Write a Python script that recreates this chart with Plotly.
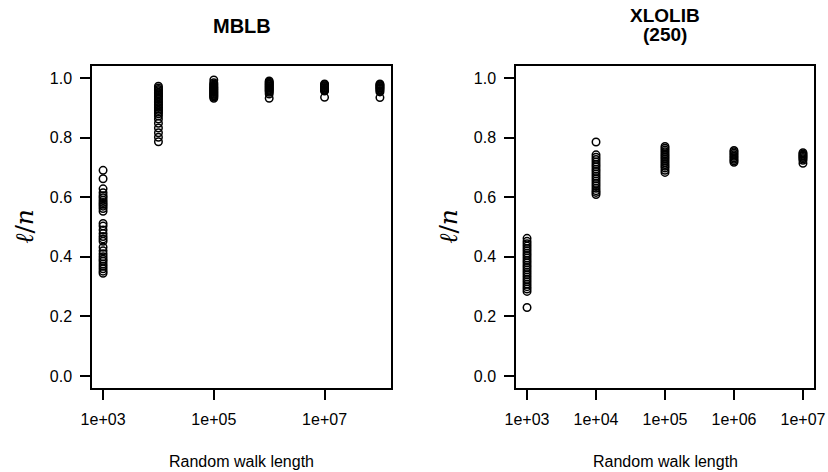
import plotly.graph_objects as go

W, H = 828, 472

# ---- data ----
mblb_lengths = [1e3, 1e4, 1e5, 1e6, 1e7, 1e8]
mblb_values = [
    [0.690, 0.662, 0.628, 0.615, 0.605, 0.598, 0.590, 0.582, 0.576, 0.570, 0.562, 0.553,
     0.512, 0.503, 0.490, 0.478, 0.468, 0.460, 0.452, 0.432, 0.420, 0.410, 0.400, 0.392,
     0.385, 0.376, 0.368, 0.360, 0.352, 0.345],
    [0.972, 0.966, 0.961, 0.957, 0.952, 0.947, 0.943, 0.938, 0.933, 0.928, 0.922, 0.917,
     0.912, 0.906, 0.901, 0.896, 0.891, 0.886, 0.880, 0.872, 0.862, 0.848, 0.832, 0.816,
     0.801, 0.786],
    [0.993, 0.984, 0.980, 0.976, 0.972, 0.969, 0.966, 0.963, 0.960, 0.957, 0.954, 0.951,
     0.948, 0.945, 0.942, 0.939, 0.936, 0.932],
    [0.990, 0.986, 0.983, 0.980, 0.977, 0.974, 0.971, 0.968, 0.965, 0.962, 0.959, 0.956,
     0.952, 0.946, 0.932],
    [0.980, 0.977, 0.974, 0.971, 0.968, 0.965, 0.962, 0.959, 0.956, 0.935],
    [0.980, 0.977, 0.974, 0.971, 0.968, 0.965, 0.962, 0.958, 0.953, 0.934],
]

xlolib_lengths = [1e3, 1e4, 1e5, 1e6, 1e7]
xlolib_values = [
    [0.462, 0.452, 0.444, 0.436, 0.428, 0.420, 0.412, 0.404, 0.396, 0.388, 0.380, 0.372,
     0.364, 0.356, 0.348, 0.340, 0.332, 0.324, 0.316, 0.308, 0.300, 0.292, 0.284, 0.230],
    [0.785, 0.742, 0.734, 0.726, 0.718, 0.710, 0.702, 0.694, 0.686, 0.678, 0.670, 0.662,
     0.654, 0.646, 0.638, 0.630, 0.622, 0.616, 0.609],
    [0.770, 0.764, 0.758, 0.752, 0.746, 0.740, 0.734, 0.728, 0.722, 0.716, 0.710, 0.704,
     0.698, 0.690, 0.683],
    [0.757, 0.752, 0.747, 0.742, 0.737, 0.732, 0.727, 0.722, 0.717],
    [0.749, 0.745, 0.741, 0.737, 0.733, 0.729, 0.724, 0.714],
]

y_ticks = [0.0, 0.2, 0.4, 0.6, 0.8, 1.0]
mblb_xticks = [1e3, 1e5, 1e7]
mblb_xlabels = ["1e+03", "1e+05", "1e+07"]
xlolib_xticks = [1e3, 1e4, 1e5, 1e6, 1e7]
xlolib_xlabels = ["1e+03", "1e+04", "1e+05", "1e+06", "1e+07"]

FONT = "Liberation Sans, Arial, Helvetica, sans-serif"

fig = go.Figure()

def add_points(lengths, values, xa, ya):
    xs, ys = [], []
    for L, vals in zip(lengths, values):
        for v in vals:
            xs.append(L)
            ys.append(v)
    fig.add_trace(go.Scatter(
        x=xs, y=ys, mode="markers", xaxis=xa, yaxis=ya, showlegend=False,
        marker=dict(symbol="circle-open", size=7.5, color="black",
                    line=dict(color="black", width=1.5)),
        hoverinfo="x+y"))

add_points(mblb_lengths, mblb_values, "x", "y")
add_points(xlolib_lengths, xlolib_values, "x2", "y2")

top, bot = 66, 388
ydom = [1 - bot / H, 1 - top / H]
ax_common = dict(showline=True, mirror=True, linecolor="black", linewidth=1.5,
                 ticks="outside", ticklen=10, tickwidth=1.5, tickcolor="black",
                 showgrid=False, zeroline=False, automargin=False,
                 tickfont=dict(family=FONT, size=16, color="black"))

fig.update_layout(
    template="none",
    width=W, height=H, margin=dict(l=0, r=0, t=0, b=0, autoexpand=False),
    paper_bgcolor="white", plot_bgcolor="white",
    xaxis=dict(domain=[92 / W, 391 / W], type="log", range=[2.8, 8.2],
               tickvals=mblb_xticks, ticktext=mblb_xlabels, anchor="y",
               ticklabelstandoff=6, **ax_common),
    yaxis=dict(domain=ydom, range=[-0.04, 1.04], tickvals=y_ticks,
               tickformat=".1f", anchor="x", ticklabelstandoff=5, **ax_common),
    xaxis2=dict(domain=[516 / W, 814 / W], type="log", range=[2.84, 7.16],
                tickvals=xlolib_xticks, ticktext=xlolib_xlabels, anchor="y2",
                ticklabelstandoff=6, **ax_common),
    yaxis2=dict(domain=ydom, range=[-0.04, 1.04], tickvals=y_ticks,
                tickformat=".1f", anchor="x2", ticklabelstandoff=5, **ax_common),
)

def ann(text, x, y, size=16, bold=False, angle=0):
    fig.add_annotation(text=f"<b>{text}</b>" if bold else text,
                       x=x / W, y=1 - y / H, xref="paper", yref="paper",
                       xanchor="center", yanchor="middle", showarrow=False,
                       textangle=angle,
                       font=dict(family=FONT, size=size, color="black"))

ann("MBLB", 241.5, 25.5, size=20, bold=True)
ann("XLOLIB", 665, 15, size=19, bold=True)
ann("(250)", 665, 34, size=19, bold=True)
ann("Random walk length", 241.5, 461)
ann("Random walk length", 665, 461)
for xc in (25, 449):
    fig.add_annotation(text="<i>ℓ</i>/<i>n</i>", x=xc / W, y=1 - 227 / H,
                       xref="paper", yref="paper", xanchor="center", yanchor="middle",
                       showarrow=False, textangle=-90,
                       font=dict(family="DejaVu Serif, serif", size=25, color="black"))

fig.write_html("out.html", config={"displayModeBar": False},
               post_script="document.body.style.margin='0';document.body.style.padding='0';")
